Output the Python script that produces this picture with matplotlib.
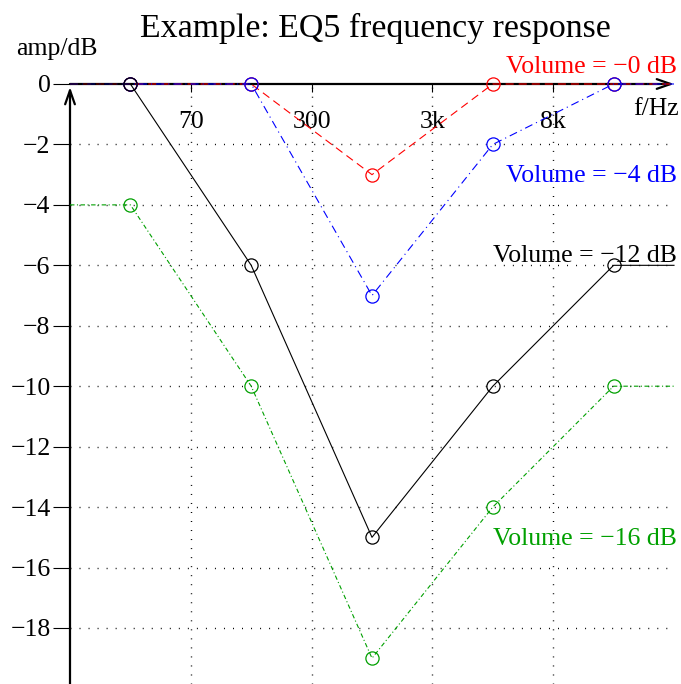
import matplotlib
matplotlib.use('Agg')
import matplotlib.pyplot as plt

# ---- data ----
bands = [0, 1, 2, 3, 4]                 # band index (EQ5 control points)
freq_labels = ['70', '300', '3k', '8k']  # band boundaries
vol0 = [0, 0, -3, 0, 0]
vol4 = [0, 0, -7, -2, 0]
vol12 = [0, -6, -15, -10, -6]
vol16 = [-4, -10, -19, -14, -10]
series_names = ['Volume = \u22120 dB', 'Volume = \u22124 dB',
                'Volume = \u221212 dB', 'Volume = \u221216 dB']
yticks = [0, -2, -4, -6, -8, -10, -12, -14, -16, -18]

plt.rcParams['font.family'] = ['Liberation Serif', 'DejaVu Serif']
plt.rcParams['lines.scale_dashes'] = False

FS = 18.5
W, H = 681, 684
fig = plt.figure(figsize=(W / 100, H / 100), dpi=100)
ax = fig.add_axes([70 / W, 0, 611 / W, 600 / H])
ax.set_xlim(-0.5, -0.5 + 611 / 120.8)
ax.set_ylim(-600 / 30.22, 0)
for s in ax.spines.values():
    s.set_visible(False)

# ticks
ax.set_yticks(yticks)
ax.set_yticklabels([('\u2212' + str(-v)) if v < 0 else str(v) for v in yticks])
ax.tick_params(axis='y', direction='out', length=12, width=0.8, pad=2,
               labelsize=FS, colors='black')
xt = [b + 0.5 for b in bands[:-1]]
ax.set_xticks(xt)
ax.xaxis.set_ticks_position('top')
ax.tick_params(axis='x', direction='in', length=6, width=0.8, labeltop=False,
               labelbottom=False)
for x, lab in zip(xt, freq_labels):
    ax.annotate(lab, (x, 0), xytext=(0, -44), textcoords='offset pixels',
                ha='center', va='baseline', fontsize=FS)

# grid
gkw = dict(color='black', lw=1.0, dashes=(0.7, 5.8), zorder=1)
for y in yticks[1:]:
    ax.plot([-0.5, 4.5], [y, y], **gkw)
for x in xt:
    ax.axvline(x, **gkw)

# axes with arrows
ax.annotate('', xy=(4.5, 0), xytext=(-0.5, 0),
            arrowprops=dict(arrowstyle='->,head_length=1.0,head_width=0.35',
                            lw=1.6, color='black', shrinkA=0, shrinkB=0),
            zorder=2, annotation_clip=False)
ax.annotate('', xy=(-0.5, -0.1), xytext=(-0.5, ax.get_ylim()[0]),
            arrowprops=dict(arrowstyle='->,head_length=1.0,head_width=0.35',
                            lw=1.6, color='black', shrinkA=0, shrinkB=0),
            zorder=2, annotation_clip=False)

# series
styles = [
    dict(color='#ff0000', dashes=(5.8, 3.6)),
    dict(color='#0000ff', dashes=(5.8, 2.9, 0.8, 2.9)),
    dict(color='black', ls='-'),
    dict(color='#00a000', dashes=(3.2, 1.8, 0.8, 1.8)),
]
series = [vol0, vol4, vol12, vol16]
label_base_px = [73, 182, 262, 545]
for i, (vals, st) in enumerate(zip(series, styles)):
    xs = [-0.5] + bands + [4.5]
    ys = [vals[0]] + vals + [vals[-1]]
    ax.plot(xs, ys, lw=0.8, zorder=3 + i, clip_on=False, **st)
    ax.plot(bands, vals, ls='none', marker='o', ms=9.5, mfc='none',
            mec=st['color'], mew=0.9, zorder=3 + i, clip_on=False)
    fig.text(677 / W, 1 - label_base_px[i] / H, series_names[i], color=st['color'],
             ha='right', va='baseline', fontsize=FS)

fig.text(375.5 / W, 1 - 37 / H, 'Example: EQ5 frequency response',
         ha='center', va='baseline', fontsize=24.4)
fig.text(57 / W, 1 - 55 / H, 'amp/dB', ha='center', va='baseline', fontsize=FS)
fig.text(656 / W, 1 - 115 / H, 'f/Hz', ha='center', va='baseline', fontsize=FS)

fig.savefig('out.png', dpi=100)
